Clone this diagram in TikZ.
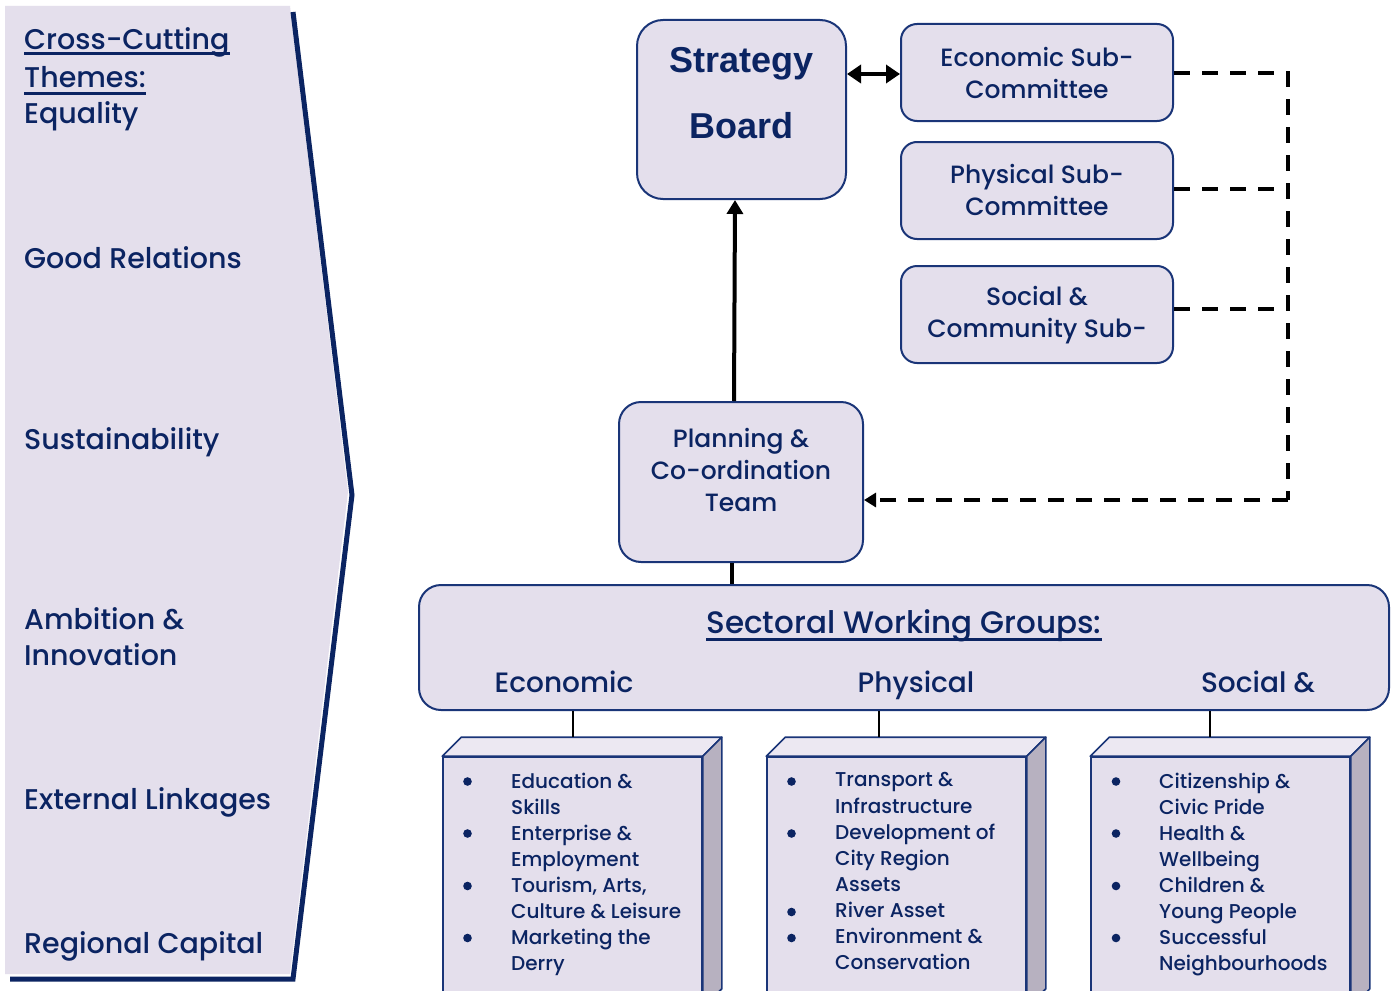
\documentclass[tikz,border=0pt]{standalone}
\usepackage{fontspec}
\setmainfont{Poppins Medium}
\newfontfamily\arialfont{Liberation Sans}
\usetikzlibrary{arrows.meta,calc}
\definecolor{navy}{HTML}{0B2462}
\definecolor{lav}{HTML}{E4DFEC}
\definecolor{lavtop}{HTML}{ECE8F2}
\definecolor{lavside}{HTML}{B7B1C0}
\definecolor{boxline}{HTML}{1A3578}
\begin{document}
\begin{tikzpicture}[x=1pt,y=-1pt,
  rbox/.style={draw=boxline, line width=2pt, fill=lav, rounded corners=#1, inner sep=0pt},
  cube/.style={draw=boxline, line width=1.6pt, fill=lav, inner sep=0pt, minimum width=259pt, minimum height=250pt},
  lefttxt/.style={anchor=base west, inner sep=0pt, text=navy, font=\fontsize{28.5}{34}\selectfont},
  subtxt/.style={align=center, inner sep=0pt, text=navy, font=\fontsize{25}{32}\selectfont},
  grptxt/.style={anchor=base, inner sep=0pt, text=navy, font=\fontsize{28}{34}\selectfont},
  listtxt/.style={anchor=north west, inner sep=0pt, text=navy, align=left, font=\fontsize{20}{26.1}\selectfont},
  bulletdot/.style={fill=navy},
  dashln/.style={line width=3.5pt, dash pattern=on 16pt off 12pt},
  thick arrow/.style={line width=4pt},
  conn/.style={line width=1.5pt},
  uline/.style={draw=navy, line width=3pt}
]
\useasboundingbox (0,0) rectangle (1394,990);
\fill[white] (0,0) rectangle (1394,990);
% left panel
\fill[lav] (5,6) -- (290,6) -- (348,492) -- (290,974) -- (5,974) -- cycle;
\draw[navy, line width=5pt, line join=miter] (293,12) -- (352,495) -- (293,979) -- (10,979);
\node[lefttxt] (t1) at (24,49) {Cross-Cutting};
\node[lefttxt] (t2) at (24,88) {Themes:};
\node[lefttxt] (t3) at (24,123) {Equality};
\node[lefttxt] (t4) at (24,268) {Good Relations};
\node[lefttxt] (t5) at (24,449) {Sustainability};
\node[lefttxt] (t6) at (24,629) {Ambition \&};
\node[lefttxt] (t7) at (24,665) {Innovation};
\node[lefttxt] (t8) at (24,809) {External Linkages};
\node[lefttxt] (t9) at (24,953) {Regional Capital};
\draw[uline] ($(t1.base west)+(0,5)$) -- ($(t1.base east)+(0,5)$);
\draw[uline] ($(t2.base west)+(0,5)$) -- ($(t2.base east)+(0,5)$);

% strategy board
\node[rbox=26pt, minimum width=209pt, minimum height=179pt] (sb) at (741.5,109.5) {};
\node[inner sep=0pt, text=navy, font=\arialfont\bfseries\fontsize{36}{66}\selectfont, align=center] (sbt) at (741.5,93) {Strategy\\Board};

% sub committees
\node[rbox=16pt, minimum width=272pt, minimum height=97pt] (ec) at (1037,72.5) {};
\node[subtxt] (ect) at (1037,73) {Economic Sub-\\Committee};
\node[rbox=16pt, minimum width=272pt, minimum height=97pt] (ph) at (1037,190.5) {};
\node[subtxt] (pht) at (1037,190) {Physical Sub-\\Committee};
\node[rbox=16pt, minimum width=272pt, minimum height=97pt] (so) at (1037,314.5) {};
\node[subtxt] (sot) at (1037,315) {Social \&\\Community Sub-};

% planning
\node[rbox=22pt, minimum width=244pt, minimum height=160pt] (pl) at (741,482) {};
\node[subtxt] (plt) at (741,469.5) {Planning \&\\Co-ordination\\Team};

% sectoral
\node[rbox=22pt, minimum width=970pt, minimum height=125pt] (sw) at (904,647.5) {};
\node[grptxt, font=\fontsize{31}{34}\selectfont] (swt) at (904,633) {Sectoral Working Groups:};
\draw[uline] ($(swt.base west)+(0,6)$) -- ($(swt.base east)+(0,6)$);
\node[grptxt] (g1) at (564,692) {Economic};
\node[grptxt] (g2) at (916,692) {Physical};
\node[grptxt] (g3) at (1258,692) {Social \&};

% cubes
\foreach \n/\cx in {c1/572.5, c2/896.5, c3/1220.5} {
  \node[cube] (\n) at (\cx,882) {};
  \draw[boxline, line width=1.6pt, fill=lavtop, line join=round] (\n.north west) -- ++(19,-19) -- ($(\n.north east)+(19,-19)$) -- (\n.north east) -- cycle;
  \draw[boxline, line width=1.6pt, fill=lavside, line join=round] (\n.north east) -- ++(19,-19) -- ($(\n.south east)+(19,-19)$) -- (\n.south east) -- cycle;
}
\node[listtxt] (l1) at (511,772.5) {Education \&\\Skills\\Enterprise \&\\Employment\\Tourism, Arts,\\Culture \& Leisure\\Marketing the\\Derry};
\node[listtxt] (l2) at (835,772.5) {Transport \&\\Infrastructure\\Development of\\City Region\\Assets\\River Asset\\Environment \&\\Conservation};
\node[listtxt] (l3) at (1159,772.5) {Citizenship \&\\Civic Pride\\Health \&\\Wellbeing\\Children \&\\Young People\\Successful\\Neighbourhoods};
\foreach \y in {781.5,833.5,886,938} {
  \fill[bulletdot] (467.5,\y) circle (4.3);
  \fill[bulletdot] (1116,\y) circle (4.3);
}
\foreach \y in {781.5,833.5,912,938} {
  \fill[bulletdot] (791.5,\y) circle (4.3);
}

% connectors
\draw[thick arrow, -{Triangle[length=14pt,width=16pt]}] (pl.north -| 734,0) -- (sb.south -| 735,0);
\draw[thick arrow] (pl.south -| 732,0) -- (sw.north -| 732,0);
\draw[thick arrow, {Triangle[length=14pt,width=18pt]}-{Triangle[length=14pt,width=18pt]}] (sb.east |- 0,74) -- (ec.west |- 0,74);
\coordinate (dc) at (1288,500);
\draw[dashln] (ec.east |- 0,73) -- (1288,73) -- (dc);
\draw[dashln] (ph.east |- 0,189) -- (1288,189);
\draw[dashln] (so.east |- 0,309) -- (1288,309);
\draw[dashln, -{Triangle[length=12pt,width=14pt]}] (dc) -- (pl.east |- dc);
\draw[conn] (sw.south -| 573,0) -- ($(c1.north -| 573,0)+(0,-19)$);
\draw[conn] (sw.south -| 879,0) -- ($(c2.north -| 879,0)+(0,-19)$);
\draw[conn] (sw.south -| 1210,0) -- ($(c3.north -| 1210,0)+(0,-19)$);
\end{tikzpicture}
\end{document}
